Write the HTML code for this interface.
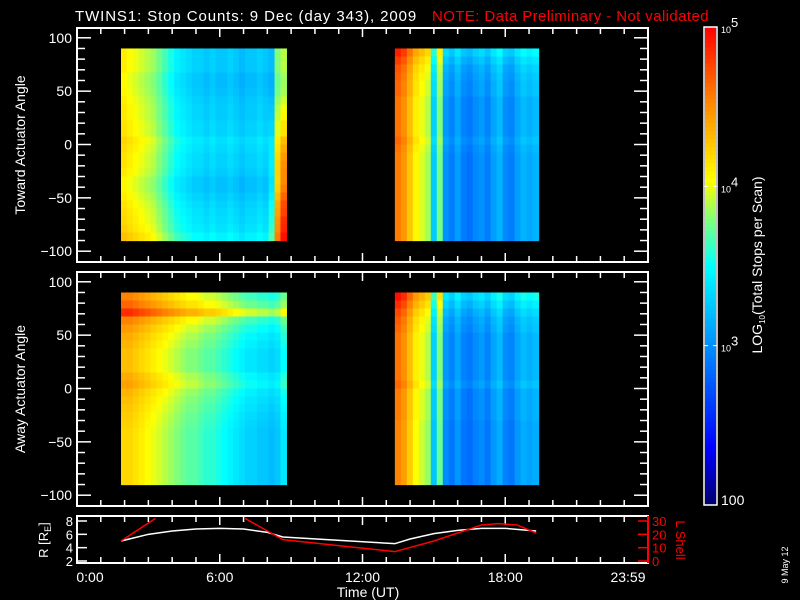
<!DOCTYPE html>
<html><head><meta charset="utf-8"><style>
html,body{margin:0;padding:0;background:#000;}
svg{display:block;font-family:"Liberation Sans",sans-serif;}
</style></head><body>
<svg id="c" width="800" height="600" viewBox="0 0 800 600">
<rect width="800" height="600" fill="#000"/>
<text x="75" y="21" fill="#fff" font-size="15" letter-spacing="0.9">TWINS1: Stop Counts:  9 Dec (day 343), 2009</text>
<text x="432" y="21" fill="#f00" font-size="15" letter-spacing="0.4">NOTE: Data Preliminary - Not validated</text>
<g id="top"></g>
<g id="bot"></g>
<g id="orb"></g>
<g id="cbar"></g>
<text transform="translate(25,145) rotate(-90)" text-anchor="middle" fill="#fff" font-size="14">Toward Actuator Angle</text>
<text transform="translate(25,389) rotate(-90)" text-anchor="middle" fill="#fff" font-size="14">Away Actuator Angle</text>
<text transform="translate(48,540) rotate(-90)" text-anchor="middle" fill="#fff" font-size="13">R [R<tspan font-size="9" dy="3">E</tspan><tspan dy="-3">]</tspan></text>
<text transform="translate(676,540) rotate(90)" text-anchor="middle" fill="#f00" font-size="13">L Shell</text>
<text x="368" y="597" text-anchor="middle" fill="#fff" font-size="14">Time (UT)</text>
<text transform="translate(788,565) rotate(-90)" text-anchor="middle" fill="#fff" font-size="9">9 May 12</text>
<text transform="translate(762,265) rotate(-90)" text-anchor="middle" fill="#fff" font-size="14">LOG<tspan font-size="8" dy="3">10</tspan><tspan dy="-3">(Total Stops per Scan)</tspan></text>
</svg>
<script>
// ---- data ----
const blockTimes = [[1.85,8.8],[13.36,19.4]];
const colTL = [4.15,4.1,4.05,4.0,3.95,3.9,3.8,3.7,3.6,3.5,3.45,3.4,3.35,3.35,3.3,3.35,3.3,3.3,3.35,3.3,3.25,3.3,3.3,3.35,3.3,3.25,3.85,3.95];
const rowTL = [-0.05,-0.05,-0.05,-0.1,-0.1,-0.08,-0.05,-0.03,-0.03,0,0,0.06,0.03,0,0,-0.03,-0.08,-0.08,-0.04,0,0.03,0.05,0.08,0.15];
const edgeTL = [0,0,0,0,0,0,0.05,0.1,0.15,0.2,0.2,0.3,0.4,0.5,0.55,0.6,0.65,0.7,0.75,0.8,0.8,0.85,0.85,0.85];
const colTR = [4.6,4.5,4.3,4.1,4.0,3.9,3.3,3.8,3.05,2.95,3.1,2.95,2.9,3.0,3.05,2.95,3.1,3.2,3.0,2.95,3.1,3.2,3.15,3.2];
const rowTR = [0.3,0.2,0.12,0.08,0.05,0.05,0,0,0,0,0,0.05,0,-0.03,-0.03,-0.03,-0.03,-0.03,-0.03,-0.03,-0.03,-0.03,-0.03,-0.03];
const colBL = [4.3,4.3,4.25,4.2,4.15,4.1,4.05,4.0,3.95,3.9,3.85,3.8,3.8,3.75,3.7,3.7,3.65,3.6,3.55,3.5,3.45,3.4,3.4,3.35,3.35,3.3,3.35,3.5];
const rowBL = [0.25,0.35,0.55,0.25,0.15,0.08,0.04,0,0,0,0.08,0.12,0.04,0,-0.03,-0.06,-0.08,-0.1,-0.1,-0.1,-0.1,-0.1,-0.1,-0.1];
const colBR = [4.6,4.5,4.3,4.1,4.0,3.9,3.3,3.8,3.05,2.95,3.1,2.95,2.9,3.0,3.05,2.95,3.1,3.2,3.0,2.95,3.1,3.2,3.15,3.2];
const rowBR = [0.35,0.25,0.15,0.08,0.05,0,0,0,0,0,0,0.05,-0.03,-0.03,-0.03,-0.03,-0.06,-0.06,-0.06,-0.06,-0.06,-0.06,-0.06,-0.06];
const rTimes = [1.85,3,4,5,6,7,8,8.65,13.36,14,15,16,17,18,19.3];
const rVals = [5,6,6.5,6.8,6.9,6.8,6.3,5.6,4.6,5.3,6.1,6.6,6.9,6.9,6.5];
const lTimes1 = [1.85,3.3];
const lVals1 = [15,32];
const lTimes2 = [7.06,8.65,13.36,15,17,17.7,18.5,19.3];
const lVals2 = [32,16,7,15,27,28,27,21];
const xTickLabels = ["0:00","6:00","12:00","18:00","23:59"];
const angTicks = [100,50,0,-50,-100];
const rTicks = [2,4,6,8];
const lTicks = [0,10,20,30];
const cbLabels = [["10","5",5],["10","4",4],["10","3",3],["100","",2]];

// ---- axes ----
const NS="http://www.w3.org/2000/svg";
const X0=77,X1=648;
const xs=h=>X0+h*(X1-X0)/24;
const angY=(off)=>a=>off+144.5-a*1.067;
const rY=v=>561-(v-2)*40/6;
const lY=v=>561-v*40/30;
const cbY=v=>505-(v-2)*478/3;
function mk(t,a,p){const e=document.createElementNS(NS,t);for(const k in a)e.setAttribute(k,a[k]);(p||svg).appendChild(e);return e;}
const svg=document.getElementById('c');
const stops=[[0,[0,0,110]],[0.12,[0,0,255]],[0.33,[0,140,255]],[0.5,[0,255,255]],[0.6,[130,255,120]],[0.68,[255,255,0]],[0.85,[255,130,0]],[1,[255,0,0]]];
function cmap(v){let t=Math.max(0,Math.min(1,(v-2)/3));for(let i=1;i<stops.length;i++){if(t<=stops[i][0]){const a=stops[i-1],b=stops[i];const f=(t-a[0])/(b[0]-a[0]);const c=a[1].map((x,j)=>Math.round(x+(b[1][j]-x)*f));return `rgb(${c})`;}}return 'rgb(255,0,0)';}

function heat(g,yf,times,cols,rows,edge){
  const x0=xs(times[0]),x1=xs(times[1]);const cw=(x1-x0)/cols.length;
  const rh=180/rows.length;
  cols.forEach((cv,i)=>{rows.forEach((rv,j)=>{
    let v=cv+rv; if(edge&&i>=cols.length-3)v+=edge[j]*(i-cols.length+4)/3;
    const ya=yf(90-j*rh),yb=yf(90-(j+1)*rh);
    const r=mk('rect',{x:(x0+i*cw).toFixed(2),y:ya.toFixed(2),width:(cw+0.6).toFixed(2),height:(yb-ya+0.6).toFixed(2),fill:cmap(v)},g);
    
    
  });});
}
function frame(g,top,bot,yf,ticks,labels){
  const b=mk('rect',{x:X0,y:top,width:X1-X0,height:bot-top,fill:'none',stroke:'#fff','stroke-width':2},g);
  
  
  for(let h=1;h<24;h++){const L=h%6==0?9:6;
    mk('line',{x1:xs(h),x2:xs(h),y1:bot,y2:bot-L,stroke:'#fff','stroke-width':1.5},g);
    mk('line',{x1:xs(h),x2:xs(h),y1:top,y2:top+L,stroke:'#fff','stroke-width':1.5},g);}
  if(ticks){for(let a=-100;a<=100;a+=10){const L=a%50==0?14:8;const y=yf(a);
    mk('line',{x1:X0,x2:X0+L,y1:y,y2:y,stroke:'#fff','stroke-width':1.5},g);
    mk('line',{x1:X1,x2:X1-L,y1:y,y2:y,stroke:'#fff','stroke-width':1.5},g);}
    ticks.forEach(a=>{const t=mk('text',{x:X0-5,y:yf(a)+5,'text-anchor':'end',fill:'#fff','font-size':14},g);t.textContent=a<0?'\u2212'+(-a):a;
      
      });}
}
const gt=document.getElementById('top'),gb=document.getElementById('bot'),go=document.getElementById('orb'),gc=document.getElementById('cbar');
const yT=angY(0),yB=angY(244);
heat(gt,yT,blockTimes[0],colTL,rowTL,edgeTL);
heat(gt,yT,blockTimes[1],colTR,rowTR,null);
heat(gb,yB,blockTimes[0],colBL,rowBL,null);
heat(gb,yB,blockTimes[1],colBR,rowBR,null);
frame(gt,28,262,yT,angTicks);
frame(gb,272,506,yB,angTicks);

// orbit panel
frame(go,516,563,null,null);
mk('line',{x1:X1,x2:X1,y1:516,y2:563,stroke:'#f00','stroke-width':2},go);
rTicks.forEach(v=>{mk('line',{x1:X0,x2:X0+10,y1:rY(v),y2:rY(v),stroke:'#fff','stroke-width':1.5},go);
  const t=mk('text',{x:X0-4,y:rY(v)+5,'text-anchor':'end',fill:'#fff','font-size':13},go);t.textContent=v;
  
  });
lTicks.forEach(v=>{mk('line',{x1:X1,x2:X1-10,y1:lY(v),y2:lY(v),stroke:'#f00','stroke-width':1.5},go);
  const t=mk('text',{x:X1+4,y:lY(v)+5,fill:'#f00','font-size':13},go);t.textContent=v;
  
  });
mk('clipPath',{id:'oc'},svg).appendChild(mk('rect',{x:X0,y:517,width:X1-X0,height:45}));
const rl=mk('polyline',{points:rTimes.map((h,i)=>xs(h)+','+rY(rVals[i])).join(' '),fill:'none',stroke:'#fff','stroke-width':1.5,'clip-path':'url(#oc)'},go);


[[lTimes1,lVals1],[lTimes2,lVals2]].forEach(([T,V])=>{const p=mk('polyline',{points:T.map((h,i)=>xs(h)+','+lY(V[i])).join(' '),fill:'none',stroke:'#f00','stroke-width':1.5,'clip-path':'url(#oc)'},go);
  
  });
xTickLabels.forEach((s,i)=>{const h=i*6;const t=mk('text',{x:xs(h)+(i==0?13:i==4?-20:0),y:582,'text-anchor':'middle',fill:'#fff','font-size':14},go);t.textContent=s;
  
  });

// colorbar
for(let k=0;k<120;k++){const v=2+3*k/120;const ya=cbY(v+3/120),yb=cbY(v);
  mk('rect',{x:705,y:ya,width:11,height:yb-ya+0.5,fill:cmap(v+1.5/120)},gc);}
const cf=mk('rect',{x:704,y:27,width:13,height:478,fill:'none',stroke:'#fff','stroke-width':1.5},gc);


cbLabels.forEach(([b,e,v])=>{const y=cbY(v);
  if(v==3||v==4){mk('line',{x1:704,x2:708,y1:y,y2:y,stroke:'#fff'},gc);mk('line',{x1:713,x2:717,y1:y,y2:y,stroke:'#fff'},gc);}
  const t=mk('text',{x:721,y:v==2?y:y+6,fill:'#fff','font-size':e?9:14},gc);t.textContent=b;
  if(e){const s=mk('tspan',{dy:-6,'font-size':13},t);s.textContent=e;}
  
  });
</script>
</body></html>
